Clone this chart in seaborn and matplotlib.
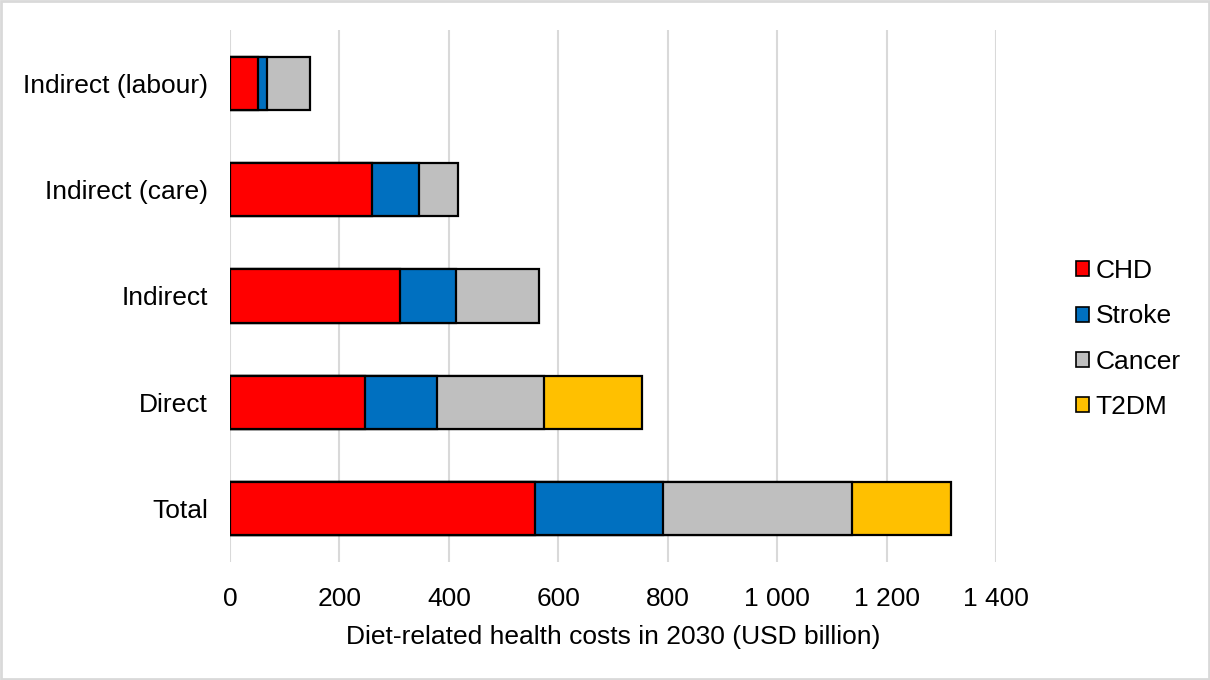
import matplotlib
matplotlib.use("Agg")
import matplotlib.pyplot as plt
import seaborn as sns
import pandas as pd
import numpy as np
from matplotlib.patches import Patch, Rectangle

categories = ["Indirect (labour)", "Indirect (care)", "Indirect", "Direct", "Total"]
series = ["CHD", "Stroke", "Cancer", "T2DM"]
chd = [51, 259, 311, 246, 557]
stroke = [16, 86, 102, 132, 234]
cancer = [79, 71, 151, 195, 346]
t2dm = [0, 0, 0, 180, 180]
colors = ["#FF0000", "#0070C0", "#BFBFBF", "#FFC000"]
xticks = [0, 200, 400, 600, 800, 1000, 1200, 1400]
xticklabels = ["0", "200", "400", "600", "800", "1 000", "1 200", "1 400"]

sns.set_style("white")
plt.rcParams['font.family'] = ['Liberation Sans', 'DejaVu Sans']
plt.rcParams['text.color'] = 'black'
plt.rcParams['xtick.color'] = 'black'
plt.rcParams['ytick.color'] = 'black'
plt.rcParams['axes.labelcolor'] = 'black'

values = np.array([chd, stroke, cancer, t2dm], dtype=float)
cum = np.cumsum(values, axis=0)

fig = plt.figure(figsize=(12.1, 6.8), dpi=100)
ax = fig.add_axes([230/1210, 1 - 562/680, (996-230)/1210, (562-30)/680])

for i in range(len(series) - 1, -1, -1):
    df = pd.DataFrame({"cat": categories, "val": cum[i]})
    sub = df[values[i] > 0] if i == 3 else df
    sns.barplot(data=sub, x="val", y="cat", order=categories, color=colors[i],
                edgecolor="black", linewidth=1.6, width=0.5, saturation=1, ax=ax,
                orient="h")

fs = 19
ax.set_xlim(0, 1400)
ax.set_xticks(xticks)
ax.set_xticklabels(xticklabels, fontsize=fs)
ax.tick_params(axis="y", labelsize=fs, length=0, pad=16)
ax.tick_params(axis="x", length=0, pad=18)
ax.set_ylabel("")
ax.set_xlabel("Diet-related health costs in 2030 (USD billion)", fontsize=fs, labelpad=10)
ax.grid(axis="x", color="#D9D9D9", linewidth=1.5)
ax.set_axisbelow(True)
for s in ax.spines.values():
    s.set_visible(False)

handles = [Patch(facecolor=c, edgecolor="black", linewidth=1.2, label=l) for c, l in zip(colors, series)]
fig.legend(handles=handles, loc="center left", bbox_to_anchor=(1052/1210, 1 - 339/680),
           frameon=False, fontsize=fs, handlelength=0.5, handleheight=0.5,
           handletextpad=0.25, labelspacing=0.8)

fig.patches.append(Rectangle((0.001, 0.001), 0.998, 0.997, transform=fig.transFigure,
                             fill=False, edgecolor="#D9D9D9", linewidth=2))

fig.savefig("out.png", dpi=100)
